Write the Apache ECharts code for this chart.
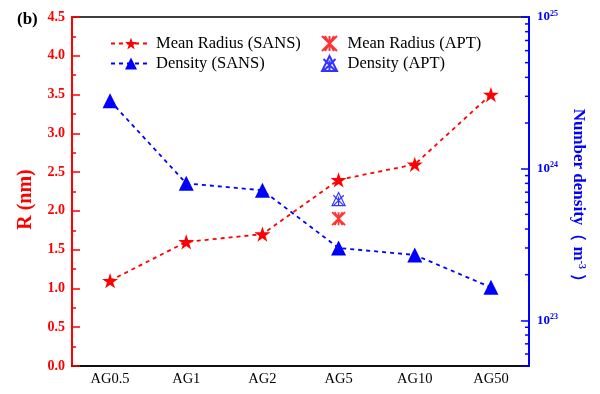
<!DOCTYPE html>
<html>
<head>
<meta charset="utf-8">
<script src="https://cdn.jsdelivr.net/npm/echarts@6/dist/echarts.min.js"></script>
<style>html,body{margin:0;padding:0;background:#fff}#c{width:600px;height:394px}</style>
</head>
<body>
<div id="c"></div>
<script>
const categories = ['AG0.5', 'AG1', 'AG2', 'AG5', 'AG10', 'AG50'];
const radiusSANS = [1.1, 1.6, 1.7, 2.4, 2.6, 3.5];
const densitySANS = [2.8e24, 8.0e23, 7.2e23, 3.0e23, 2.7e23, 1.65e23];
const radiusAPT = [['AG5', 1.9]];
const densityAPT = [['AG5', 6.3e23]];
const rTicks = { min: 0, max: 4.5, interval: 0.5 };
const densityRange = { min: 5e22, max: 1e25 };
const logMinorMultipliers = [2, 3, 4, 5, 6, 7, 8, 9];
const logDecades = [22, 23, 24];

const serif = '"Liberation Serif", "Times New Roman", serif';
const STAR = 'path://M0,-10L2.245,-3.09L9.51,-3.09L3.633,1.18L5.88,8.09L0,3.82L-5.88,8.09L-3.633,1.18L-9.51,-3.09L-2.245,-3.09Z';
const X_STAR = 'path://M0,0L10,10M10,0L0,10M2,0L8,10M8,0L2,10M5,0L5,10';
const X_TRI = 'path://M5,0L10,10L0,10ZM1,2L9,10M9,2L1,10M5,3L5,10';

// minor tick values for log axis (decoration only)
const minorTickVals = [];
logDecades.forEach(d => logMinorMultipliers.forEach(m => {
  const v = m * Math.pow(10, d);
  if (v > densityRange.min && v < densityRange.max) minorTickVals.push([0, v]);
}));

const chart = echarts.init(document.getElementById('c'), null, { renderer: 'canvas' });
chart.setOption({
  animation: false,
  textStyle: { fontFamily: serif },
  title: { text: '(b)', left: 12, top: 6, textStyle: { fontFamily: serif, fontSize: 17, fontWeight: 'bold', color: '#000' } },
  grid: { left: 72, right: 71, top: 17, bottom: 28, show: true, borderColor: '#000', borderWidth: 1.5, backgroundColor: 'transparent' },
  legend: [
    {
      left: 110, top: 35, padding: 0, orient: 'vertical', itemGap: 3, itemWidth: 40, itemHeight: 15,
      textStyle: { fontFamily: serif, fontSize: 16.5, color: '#000' },
      data: ['Mean Radius (SANS)', 'Density (SANS)']
    },
    {
      left: 321, top: 35, padding: 0, orient: 'vertical', itemGap: 3, itemWidth: 18, itemHeight: 15,
      textStyle: { fontFamily: serif, fontSize: 16.5, color: '#000', padding: [0, 0, 0, 4] },
      data: ['Mean Radius (APT)', 'Density (APT)']
    }
  ],
  xAxis: [
    {
      type: 'category', data: categories, boundaryGap: true,
      axisLine: { lineStyle: { color: '#000', width: 1.5 } },
      axisTick: { alignWithLabel: true, inside: true, length: 6, lineStyle: { color: '#000', width: 1.2 } },
      axisLabel: { color: '#000', fontSize: 14.5, fontFamily: serif, margin: 6 },
      splitLine: { show: false }
    },
    {
      type: 'category', data: categories, boundaryGap: true, position: 'bottom',
      axisLine: { show: false },
      axisTick: { inside: true, length: 3, lineStyle: { color: '#000', width: 1.2 } },
      axisLabel: { show: false },
      splitLine: { show: false }
    }
  ],
  yAxis: [
    {
      type: 'value', min: rTicks.min, max: rTicks.max, interval: rTicks.interval, position: 'left',
      name: 'R (nm)', nameLocation: 'middle', nameGap: 36,
      nameTextStyle: { color: '#ff0000', fontSize: 20, fontWeight: 'bold', fontFamily: serif, padding: [0, 16, 0, 0] },
      axisLine: { show: true, lineStyle: { color: '#ff0000', width: 2 } },
      axisTick: { show: true, inside: true, length: 8, lineStyle: { color: '#ff0000', width: 1.5 } },
      minorTick: { show: true, splitNumber: 2, length: 4, lineStyle: { color: '#ff0000', width: 1.5 } },
      axisLabel: { color: '#ff0000', fontSize: 14, fontWeight: 'bold', fontFamily: serif, margin: 7, formatter: v => v.toFixed(1) },
      splitLine: { show: false }
    },
    {
      type: 'log', logBase: 10, min: densityRange.min, max: densityRange.max, position: 'right',
      name: 'Number density（ m{sup|-3} ）', nameLocation: 'middle', nameGap: 40, nameRotate: -90,
      nameTextStyle: { color: '#0000ff', fontSize: 17, fontWeight: 'bold', fontFamily: serif, padding: [0, 0, 0, 16],
        rich: { sup: { fontSize: 10, fontWeight: 'bold', color: '#0000ff', fontFamily: serif, verticalAlign: 'top', padding: [0, 0, 8, 0] } } },
      axisLine: { show: true, lineStyle: { color: '#0000ff', width: 2 } },
      axisTick: { show: true, inside: true, length: 8, lineStyle: { color: '#0000ff', width: 1.5 } },
      axisLabel: {
        color: '#0000ff', fontSize: 13, fontWeight: 'bold', fontFamily: serif, margin: 8,
        formatter: function (v) {
          const e = Math.round(Math.log10(v));
          if (Math.abs(v - Math.pow(10, e)) / v > 1e-6) return '';
          return '10{sup|' + e + '}';
        },
        rich: { sup: { fontSize: 8, fontWeight: 'bold', color: '#0000ff', fontFamily: serif, verticalAlign: 'top', padding: [0, 0, 7, 0] } }
      },
      splitLine: { show: false }
    }
  ],
  series: [
    {
      name: 'Mean Radius (SANS)', type: 'line', data: radiusSANS, xAxisIndex: 0, yAxisIndex: 0,
      symbol: STAR, symbolSize: 16, symbolKeepAspect: true,
      itemStyle: { color: '#ff0000' },
      lineStyle: { color: '#ff0000', width: 1.8, type: [4, 4] }
    },
    {
      name: 'Density (SANS)', type: 'line', data: densitySANS, xAxisIndex: 0, yAxisIndex: 1,
      symbol: 'triangle', symbolSize: 15,
      itemStyle: { color: '#0000ff' },
      lineStyle: { color: '#0000ff', width: 1.8, type: [4, 4] }
    },
    {
      name: 'Mean Radius (APT)', type: 'scatter', data: radiusAPT, xAxisIndex: 0, yAxisIndex: 0,
      symbol: X_STAR, symbolSize: 13,
      itemStyle: { color: 'transparent', borderColor: '#ff0000', borderWidth: 1.8 }
    },
    {
      name: 'Density (APT)', type: 'scatter', data: densityAPT, xAxisIndex: 0, yAxisIndex: 1,
      symbol: X_TRI, symbolSize: 13,
      itemStyle: { color: 'transparent', borderColor: '#0000ff', borderWidth: 1.2 }
    },
    {
      name: 'logMinorTicks', type: 'custom', xAxisIndex: 0, yAxisIndex: 1, silent: true, clip: false,
      data: minorTickVals,
      renderItem: function (params, api) {
        const cs = params.coordSys;
        const right = cs.x + cs.width;
        const y = api.coord([0, api.value(1)])[1];
        return { type: 'line', shape: { x1: right - 4, y1: y, x2: right, y2: y }, style: { stroke: '#0000ff', lineWidth: 1.5 } };
      }
    }
  ]
});
</script>
</body>
</html>
